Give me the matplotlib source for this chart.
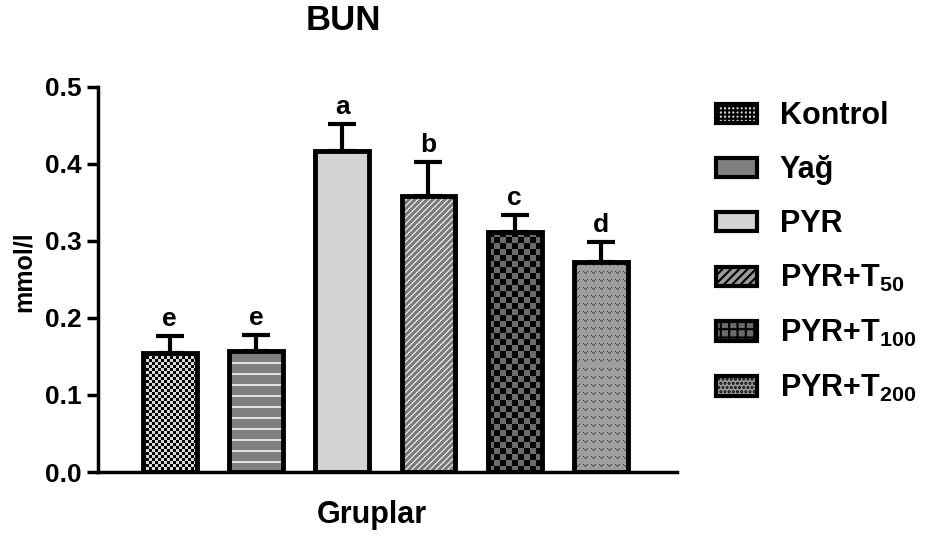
import numpy as np
import matplotlib
matplotlib.use("Agg")
import matplotlib.pyplot as plt
from matplotlib.patches import Patch

plt.rcParams['font.family'] = ['Liberation Sans', 'DejaVu Sans']
plt.rcParams['font.weight'] = 'bold'
plt.rcParams['mathtext.fontset'] = 'custom'
plt.rcParams['mathtext.rm'] = 'Liberation Sans:bold'
plt.rcParams['mathtext.bf'] = 'Liberation Sans:bold'
plt.rcParams['mathtext.default'] = 'rm'
plt.rcParams['hatch.linewidth'] = 1.5

# ---- data ----
groups = ['Kontrol', 'Yağ', 'PYR', 'PYR+T$_{50}$', 'PYR+T$_{100}$', 'PYR+T$_{200}$']
means = [0.154, 0.157, 0.417, 0.358, 0.312, 0.273]
sems = [0.023, 0.021, 0.035, 0.045, 0.022, 0.026]
letters = ['e', 'e', 'a', 'b', 'c', 'd']
yticks = [0.0, 0.1, 0.2, 0.3, 0.4, 0.5]

W, H = 926, 542
fig = plt.figure(figsize=(W / 100, H / 100), dpi=100)
ax = fig.add_axes([98 / W, 1 - 472 / H, (677 - 98) / W, (472 - 87) / H])

x = np.arange(len(groups))
bw = 0.625
xlim = (-0.83, 5.88)
ylim = (0, 0.5)
px_per_x = (677 - 98) / (xlim[1] - xlim[0])
px_per_y = (472 - 87) / (ylim[1] - ylim[0])


def texture(k, wpx, hpx):
    i, j = np.mgrid[0:hpx, 0:wpx]
    img = np.ones((hpx, wpx, 3))
    if k == 0:
        m = ((i // 3 + j // 3) % 2) == 0
        img[:] = 0.85
        img[m] = 0.0
    elif k == 1:
        img[:] = 0.50
        img[(i % 11) < 2] = 0.88
    elif k == 2:
        img[:] = 0.83
    elif k == 3:
        img[:] = 0.48
        img[((i + j) % 6) < 2] = 0.85
    elif k == 4:
        m = ((i // 6 + j // 6) % 2) == 0
        img[:] = 0.42
        img[m] = 0.02
    else:
        img[:] = 0.62
        ti, tj = i % 8, j % 8
        v = ((ti == 2) & ((tj == 1) | (tj == 5))) | ((ti == 3) & ((tj == 2) | (tj == 4))) | ((ti == 4) & (tj == 3))
        img[v] = 0.25
    return img


bars = ax.bar(x, means, width=bw, facecolor='none', edgecolor='black',
              linewidth=3.5, zorder=3)
for k, b in enumerate(bars):
    x0 = b.get_x()
    h = b.get_height()
    wpx = max(int(round(bw * px_per_x)), 2)
    hpx = max(int(round(h * px_per_y)), 2)
    im = ax.imshow(texture(k, wpx, hpx), extent=(x0, x0 + bw, 0, h),
                   interpolation='nearest', aspect='auto', zorder=2, origin='upper')
    im.set_clip_path(b)

ax.errorbar(x, means, yerr=[np.zeros(len(sems)), sems], fmt='none', ecolor='black',
            elinewidth=3, capsize=10, capthick=3, zorder=1)

for xi, m, s, l in zip(x, means, sems, letters):
    ax.text(xi, m + s + 0.006, l, ha='center', va='bottom', fontsize=19, fontweight='bold')

ax.set_xlim(*xlim)
ax.set_ylim(*ylim)
ax.set_yticks(yticks)
ax.set_yticklabels([f'{v:.1f}' for v in yticks])
ax.set_xticks([])
ax.spines['top'].set_visible(False)
ax.spines['right'].set_visible(False)
ax.spines['left'].set_linewidth(2.5)
ax.spines['bottom'].set_linewidth(2.5)
ax.tick_params(axis='y', length=8, width=2.5, labelsize=19, pad=4)
fig.text(372 / W, 1 - 515 / H, 'Gruplar', ha='center', va='center', fontsize=22, fontweight='bold')
fig.text(24 / W, 1 - 272 / H, 'mmol/l', ha='center', va='center', rotation=90,
         fontsize=18, fontweight='bold')
fig.text(343 / W, 1 - 21 / H, 'BUN', ha='center', va='center', fontsize=25, fontweight='bold')

leg_styles = [
    dict(facecolor='#d8d8d8', hatch='++++'),
    dict(facecolor='#808080'),
    dict(facecolor='#d4d4d4'),
    dict(facecolor='#9a9a9a', hatch='////'),
    dict(facecolor='#6a6a6a', hatch='++'),
    dict(facecolor='#9e9e9e', hatch='....'),
]
handles = [Patch(edgecolor='black', linewidth=3, label=g, **st) for g, st in zip(groups, leg_styles)]
fig.legend(handles=handles, loc='upper left', bbox_to_anchor=(688 / W, 1 - 74 / H),
           frameon=False, handlelength=1.35, handleheight=0.6,
           handletextpad=0.75, labelspacing=0.78, prop={'weight': 'bold', 'size': 22})

fig.savefig('out.png', dpi=100)
